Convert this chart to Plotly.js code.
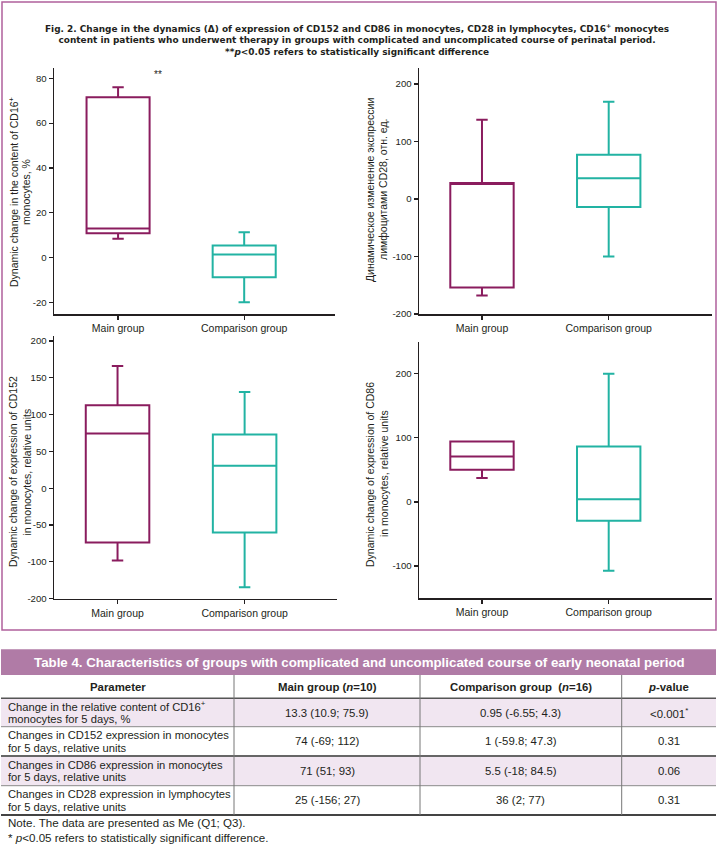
<!DOCTYPE html>
<html>
<head>
<meta charset="utf-8">
<script src="https://cdn.plot.ly/plotly-3.0.1.min.js"></script>
<style>html,body{margin:0;padding:0;background:#fff;}#chart{width:720px;height:848px;}</style>
</head>
<body>
<div id="chart"></div>
<script>
// ---------------- DATA ----------------
const categories = ['Main group', 'Comparison group'];

// CD16+ monocytes content change, %
const cd16Q1 = [10.8, -8.8];
const cd16Median = [13.0, 1.4];
const cd16Q3 = [71.5, 5.4];
const cd16Low = [8.4, -20.0];
const cd16High = [76.0, 11.3];
const cd16TickVals = [-20, 0, 20, 40, 60, 80];
const cd16TickText = ['-20', '0', '20', '40', '60', '80'];

// CD28 expression in lymphocytes
const cd28Q1 = [-154, -14];
const cd28Median = [26, 36];
const cd28Q3 = [28, 77];
const cd28Low = [-168, -100];
const cd28High = [138, 169];
const cd28TickVals = [-200, -100, 0, 100, 200];
const cd28TickText = ['-200', '-100', '0', '100', '200'];

// CD152 expression in monocytes
const cd152Q1 = [-73.5, -60];
const cd152Median = [74.5, 30.5];
const cd152Q3 = [112.6, 73];
const cd152Low = [-98, -134.5];
const cd152High = [166, 130.7];
const cd152TickVals = [-150, -100, -50, 0, 50, 100, 150, 200];
const cd152TickText = ['-200', '-100', '-50', '0', '50', '100', '150', '200'];

// CD86 expression in monocytes
const cd86Q1 = [50, -29.5];
const cd86Median = [71, 4];
const cd86Q3 = [94.4, 86.5];
const cd86Low = [37.5, -107.6];
const cd86High = [94.4, 200];
const cd86TickVals = [-100, 0, 100, 200];
const cd86TickText = ['-100', '0', '100', '200'];

const cd16Title = ['Dynamic change in the content of CD16<sup>+</sup>', 'monocytes, %'];
const cd28Title = ['Динамическое изменение экспрессии', 'лимфоцитами CD28, отн. ед.'];
const cd152Title = ['Dynamic change of expression of CD152', 'in monocytes, relative units'];
const cd86Title = ['Dynamic change of expression of CD86', 'in monocytes, relative units'];
const significanceMark = '**';

const figTitleLines = [
  'Fig. 2. Change in the dynamics (Δ) of expression of CD152 and CD86 in monocytes, CD28 in lymphocytes, CD16<sup>+</sup> monocytes',
  'content in patients who underwent therapy in groups with complicated and uncomplicated course of perinatal period.',
  '**<i>p</i>&lt;0.05 refers to statistically significant difference'
];

// Table
const tableTitle = 'Table 4. Characteristics of groups with complicated and uncomplicated course of early neonatal period';
const tableHeader = ['Parameter', 'Main group (<i>n</i>=10)', 'Comparison group  (<i>n</i>=16)', '<i>p</i>-value'];
const paramCol = [
  'Change in the relative content of CD16<sup>+</sup><br>monocytes for 5 days, %',
  'Changes in CD152 expression in monocytes<br>for 5 days, relative units',
  'Changes in CD86 expression in monocytes<br>for 5 days, relative units',
  'Changes in CD28 expression in lymphocytes<br>for 5 days, relative units'
];
const mainCol = ['13.3 (10.9; 75.9)', '74 (-69; 112)', '71 (51; 93)', '25 (-156; 27)'];
const compCol = ['0.95 (-6.55; 4.3)', '1 (-59.8; 47.3)', '5.5 (-18; 84.5)', '36 (2; 77)'];
const pCol = ['&lt;0.001<sup>*</sup>', '0.31', '0.06', '0.31'];
const notes = [
  'Note. The data are presented as Me (Q1; Q3).',
  '* <i>p</i>&lt;0.05 refers to statistically significant difference.'
];

// ---------------- STYLE / LAYOUT ----------------
const W = 720, H = 848;
const X = px => px / W;
const Y = py => 1 - py / H;
const FONT = 'Liberation Sans, Arial, Helvetica, sans-serif';
const TITLE_FONT = 'DejaVu Sans, Liberation Sans, Arial, sans-serif';
const INK = '#231f20';
const colors = ['#8a1c5e', '#22b3a3'];

const panels = [
  {n: '', xd: [54, 335], yd: [68, 314], xr: [-0.508, 1.72], yr: [-25.2, 84.6],
   q1: cd16Q1, med: cd16Median, q3: cd16Q3, lo: cd16Low, hi: cd16High,
   tv: cd16TickVals, tt: cd16TickText, title: cd16Title, tx: [14, 26], ty: 192},
  {n: '2', xd: [419, 712], yd: [68, 314], xr: [-0.497, 1.815], yr: [-200, 227.8],
   q1: cd28Q1, med: cd28Median, q3: cd28Q3, lo: cd28Low, hi: cd28High,
   tv: cd28TickVals, tt: cd28TickText, title: cd28Title, tx: [370, 383], ty: 190},
  {n: '3', xd: [54, 337], yd: [336, 598.7], xr: [-0.50, 1.727], yr: [-150, 206.8],
   q1: cd152Q1, med: cd152Median, q3: cd152Q3, lo: cd152Low, hi: cd152High,
   tv: cd152TickVals, tt: cd152TickText, title: cd152Title, tx: [13, 26.5], ty: 472},
  {n: '4', xd: [419, 712], yd: [341.7, 598.3], xr: [-0.497, 1.815], yr: [-150.4, 250],
   q1: cd86Q1, med: cd86Median, q3: cd86Q3, lo: cd86Low, hi: cd86High,
   tv: cd86TickVals, tt: cd86TickText, title: cd86Title, tx: [370, 384], ty: 474}
];

const data = [];
const layout = {
  width: W, height: H,
  margin: {l: 0, r: 0, t: 0, b: 0},
  paper_bgcolor: '#ffffff', plot_bgcolor: 'rgba(0,0,0,0)',
  showlegend: false, boxmode: 'overlay',
  font: {family: FONT, color: INK, size: 10.5},
  annotations: [], shapes: []
};

panels.forEach(p => {
  categories.forEach((c, i) => {
    data.push({
      type: 'box', x: [c],
      q1: [p.q1[i]], median: [p.med[i]], q3: [p.q3[i]],
      lowerfence: [p.lo[i]], upperfence: [p.hi[i]],
      xaxis: 'x' + p.n, yaxis: 'y' + p.n,
      line: {color: colors[i], width: 2},
      fillcolor: '#ffffff', width: 0.5, whiskerwidth: 0.18,
      boxpoints: false, hoverinfo: 'skip', showlegend: false
    });
  });
  layout['xaxis' + p.n] = {
    domain: [X(p.xd[0]), X(p.xd[1])], anchor: 'y' + p.n,
    type: 'category', categoryorder: 'array', categoryarray: categories,
    range: p.xr, showline: true, linecolor: INK, linewidth: 1.5,
    ticks: 'outside', ticklen: 4, tickwidth: 1.2, tickcolor: INK,
    showgrid: false, zeroline: false,
    tickfont: {family: FONT, size: 10.5, color: INK}
  };
  layout['yaxis' + p.n] = {
    domain: [Y(p.yd[1]), Y(p.yd[0])], anchor: 'x' + p.n,
    range: p.yr, showline: true, linecolor: INK, linewidth: 1.5,
    ticks: 'outside', ticklen: 4, tickwidth: 1.2, tickcolor: INK,
    showgrid: false, zeroline: false,
    tickmode: 'array', tickvals: p.tv, ticktext: p.tt,
    tickfont: {family: FONT, size: 9.6, color: INK}
  };
  // y-axis title, one rotated text per line
  p.title.forEach((t, k) => {
    layout.annotations.push({xref: 'paper', yref: 'paper', x: X(p.tx[k]), y: Y(p.ty),
      text: t, textangle: -90, showarrow: false, xanchor: 'center', yanchor: 'middle',
      font: {family: FONT, size: 10.5, color: INK}});
  });
});

// significance mark in panel 1
layout.annotations.push({
  xref: 'x', yref: 'y', x: 0.313, y: 81.5, text: significanceMark, showarrow: false,
  font: {family: FONT, size: 10, color: INK}, xanchor: 'center', yanchor: 'middle'
});

// figure frame
layout.shapes.push({type: 'rect', xref: 'paper', yref: 'paper',
  x0: X(2), x1: X(716), y0: Y(630), y1: Y(2),
  line: {color: '#b0609c', width: 1.5}, fillcolor: 'rgba(0,0,0,0)', layer: 'below'});

// figure title (one block, three lines)
layout.annotations.push({xref: 'paper', yref: 'paper', x: X(357), y: Y(40),
  text: '<b>' + figTitleLines.join('<br>') + '</b>', showarrow: false,
  xanchor: 'center', yanchor: 'middle', align: 'center',
  font: {family: TITLE_FONT, size: 8.95, color: INK}});

// ---------------- TABLE ----------------
const colEdges = [1, 234, 420, 621.7, 716];
const bannerY = [649.3, 675];
const headerY = [675, 698.3];
const rowEdges = [698.3, 726.7, 756, 785.7, 815];

layout.shapes.push({type: 'rect', xref: 'paper', yref: 'paper',
  x0: X(colEdges[0]), x1: X(colEdges[4]), y0: Y(bannerY[1]), y1: Y(bannerY[0]),
  fillcolor: '#b07ba6', line: {width: 0}, layer: 'below'});
layout.annotations.push({xref: 'paper', yref: 'paper', x: X(359), y: Y((bannerY[0] + bannerY[1]) / 2),
  text: '<b>' + tableTitle + '</b>', showarrow: false, xanchor: 'center', yanchor: 'middle',
  font: {family: FONT, size: 13.3, color: '#ffffff'}});

// row fills
for (let r = 0; r < 4; r++) {
  if (r % 2 === 0) {
    layout.shapes.push({type: 'rect', xref: 'paper', yref: 'paper',
      x0: X(colEdges[0]), x1: X(colEdges[4]), y0: Y(rowEdges[r + 1]), y1: Y(rowEdges[r]),
      fillcolor: '#f1e6f1', line: {width: 0}, layer: 'below'});
  }
}
// horizontal rules
const hRules = [
  {y: headerY[1], c: '#555555', w: 1.5},
  {y: rowEdges[1], c: '#8a8a8a', w: 1},
  {y: rowEdges[2], c: '#666666', w: 2},
  {y: rowEdges[3], c: '#8a8a8a', w: 1},
  {y: rowEdges[4], c: '#444444', w: 2}
];
hRules.forEach(h => layout.shapes.push({type: 'line', xref: 'paper', yref: 'paper',
  x0: X(colEdges[0]), x1: X(colEdges[4]), y0: Y(h.y), y1: Y(h.y), line: {color: h.c, width: h.w}}));
// vertical rules
for (let c = 1; c < 4; c++) {
  layout.shapes.push({type: 'line', xref: 'paper', yref: 'paper',
    x0: X(colEdges[c]), x1: X(colEdges[c]), y0: Y(rowEdges[4]), y1: Y(headerY[0]),
    line: {color: '#777777', width: 1}});
}
// header texts
tableHeader.forEach((t, c) => {
  layout.annotations.push({xref: 'paper', yref: 'paper',
    x: X((colEdges[c] + colEdges[c + 1]) / 2), y: Y((headerY[0] + headerY[1]) / 2),
    text: '<b>' + t + '</b>', showarrow: false, xanchor: 'center', yanchor: 'middle',
    font: {family: FONT, size: 11.4, color: INK}});
});
// body
const bodyCols = [mainCol, compCol, pCol];
for (let r = 0; r < 4; r++) {
  const mid = (rowEdges[r] + rowEdges[r + 1]) / 2;
  const lines = paramCol[r].split('<br>');
  lines.forEach((ln, k) => {
    layout.annotations.push({xref: 'paper', yref: 'paper', x: X(6), y: Y(mid + (k - (lines.length - 1) / 2) * 12.7),
      text: ln, showarrow: false, xanchor: 'left', yanchor: 'middle',
      font: {family: FONT, size: 11.2, color: INK}});
  });
  bodyCols.forEach((col, ci) => {
    const c = ci + 1;
    layout.annotations.push({xref: 'paper', yref: 'paper',
      x: X((colEdges[c] + colEdges[c + 1]) / 2), y: Y(mid),
      text: col[r], showarrow: false, xanchor: 'center', yanchor: 'middle',
      font: {family: FONT, size: 11.4, color: INK}});
  });
}
// notes
const noteY = [822.7, 837.3];
notes.forEach((t, i) => layout.annotations.push({xref: 'paper', yref: 'paper', x: X(6), y: Y(noteY[i]),
  text: t, showarrow: false, xanchor: 'left', yanchor: 'middle',
  font: {family: FONT, size: 11.6, color: INK}}));

Plotly.newPlot('chart', data, layout, {staticPlot: true, displayModeBar: false});
</script>
</body>
</html>
